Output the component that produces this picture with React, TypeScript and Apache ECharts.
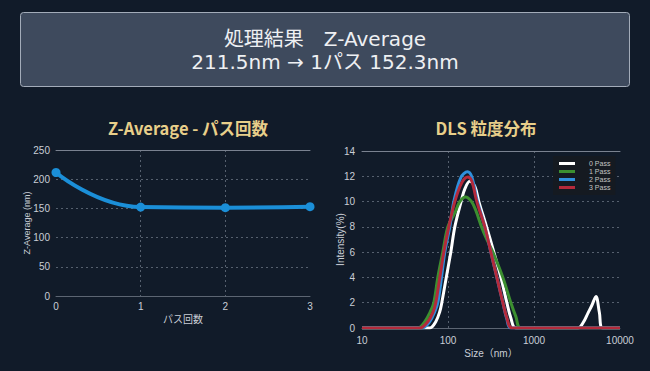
import React, { useEffect, useRef } from "react";
import * as echarts from "echarts";

// ---- Data ----
const PASS_COUNTS = [0, 1, 2, 3];
const Z_AVERAGE_NM = [211.5, 152.3, 151.2, 152.9];

const LEGEND_NAMES = ["0 Pass", "1 Pass", "2 Pass", "3 Pass"];

// [size nm, intensity %]
const PASS0: [number, number][] = [
  [10, 0], [61.4, 0], [72.1, 0.5], [80.3, 1.3], [84.7, 2], [95.5, 4], [107.8, 6],
  [120, 8], [142, 10], [156.9, 11], [179.4, 11.6], [205.1, 11.2], [228.4, 10],
  [280.9, 8], [341.4, 6], [412, 4], [483.7, 2], [538.4, 0.8], [615.6, 0],
  [3244, 0], [3741, 0.44], [4242, 1.18], [4685, 1.76], [5255, 2.49], [5750, 1.25],
  [6290, 0], [10000, 0],
];
const PASS1: [number, number][] = [
  [10, 0], [44.5, 0], [53.7, 0.5], [61.4, 1.2], [68.3, 2], [76.1, 4], [87.0, 6],
  [99.5, 8], [120, 9.1], [137.2, 10.0], [159.8, 10.37], [187.8, 10.0], [210.7, 9.3],
  [245.5, 8], [282.9, 7], [332.3, 6], [434.5, 4], [538.4, 2], [615.6, 0.9],
  [704, 0], [10000, 0],
];
const PASS2: [number, number][] = [
  [10, 0], [49.5, 0], [61.4, 0.5], [70.2, 1.3], [76.1, 2], [84.0, 4], [91.8, 6],
  [105, 8], [116.8, 10], [141, 11.9], [168.7, 12.35], [189.2, 11.95], [216.4, 10.2],
  [268.2, 8], [315, 6], [370, 4], [434.5, 2], [483.7, 0.7], [538.4, 0], [10000, 0],
];
const PASS3: [number, number][] = [
  [10, 0], [46.9, 0], [58.2, 0.5], [66.5, 1.2], [72.1, 2], [80.3, 4], [89.4, 6],
  [102.2, 8], [120, 10], [144.8, 11.5], [170, 11.95], [189.2, 11.6], [216.4, 10],
  [268.2, 8], [315, 6], [370, 4], [434.5, 2], [483.7, 0.8], [553, 0], [10000, 0],
];
const DLS_SERIES = [PASS0, PASS1, PASS2, PASS3];
const DLS_COLORS = ["#ffffff", "#3c8f30", "#2f90dc", "#b42a3b"];

const HEADER_LINE1 = "処理結果　Z-Average";
const HEADER_LINE2 = "211.5nm → 1パス 152.3nm";
const LEFT_TITLE = "Z-Average - パス回数";
const RIGHT_TITLE = "DLS 粒度分布";

const FONT = "'Liberation Sans', 'Noto Sans CJK JP', sans-serif";
const CJK = "'Noto Sans CJK JP', sans-serif";
const HEAD_FONT = "'DejaVu Sans', 'Noto Sans CJK JP', sans-serif";
const LABEL = "#c9ced6";
const GRID_LINE = "#56606e";

export default function App() {
  const ref = useRef<HTMLDivElement>(null);
  useEffect(() => {
    if (!ref.current) return;
    const chart = echarts.init(ref.current, undefined, { renderer: "svg" });
    const splitLine = {
      show: true,
      showMinLine: false,
      showMaxLine: false,
      lineStyle: { color: GRID_LINE, type: [2, 3] as any, width: 1 },
    };
    const topAxis = {
      position: "top",
      axisLine: { show: true, lineStyle: { color: "#7a8290", width: 1 } },
      axisLabel: { show: false },
      axisTick: { show: false },
      splitLine: { show: false },
    };
    chart.setOption({
      animation: false,
      backgroundColor: "#111b29",
      textStyle: { fontFamily: FONT },
      grid: [
        { left: 56, right: 340, top: 150, bottom: 75 },
        { left: 362, right: 30, top: 151, bottom: 43 },
      ],
      xAxis: [
        {
          gridIndex: 0,
          type: "value",
          min: 0,
          max: 3,
          interval: 1,
          axisLine: { show: true, lineStyle: { color: "#5c6572" } },
          axisTick: { show: false },
          axisLabel: { color: LABEL, fontSize: 10, margin: 5 },
          splitLine,
          name: "パス回数",
          nameLocation: "middle",
          nameGap: 17,
          nameTextStyle: { color: LABEL, fontSize: 10, fontFamily: CJK },
        },
        { gridIndex: 0, type: "value", min: 0, max: 3, interval: 1, ...topAxis },
        {
          gridIndex: 1,
          type: "log",
          logBase: 10,
          min: 10,
          max: 10000,
          axisLine: { show: true, lineStyle: { color: "#5c6572" } },
          axisTick: { show: false },
          axisLabel: {
            color: LABEL,
            fontSize: 10,
            margin: 7,
            formatter: (v: number) => String(Math.round(v)),
          },
          splitLine,
          minorSplitLine: { show: false },
          name: "Size（nm）",
          nameLocation: "middle",
          nameGap: 20,
          nameTextStyle: { color: LABEL, fontSize: 10, fontFamily: FONT },
        },
        { gridIndex: 1, type: "log", logBase: 10, min: 10, max: 10000, ...topAxis },
      ],
      yAxis: [
        {
          gridIndex: 0,
          type: "value",
          min: 0,
          max: 250,
          interval: 50,
          axisLine: { show: false },
          axisTick: { show: false },
          axisLabel: { color: LABEL, fontSize: 10, margin: 6 },
          splitLine,
          name: "Z-Average (nm)",
          nameLocation: "middle",
          nameGap: 25,
          nameMoveOverlap: false,
          nameTextStyle: { color: LABEL, fontSize: 9 },
        },
        {
          gridIndex: 1,
          type: "value",
          min: 0,
          max: 14,
          interval: 2,
          axisLine: { show: false },
          axisTick: { show: false },
          axisLabel: { color: LABEL, fontSize: 10, margin: 7 },
          splitLine,
          name: "Intensity(%)",
          nameLocation: "middle",
          nameGap: 17,
          nameMoveOverlap: false,
          nameTextStyle: { color: LABEL, fontSize: 10 },
        },
      ],
      legend: {
        data: LEGEND_NAMES,
        orient: "vertical",
        left: 553,
        top: 156,
        padding: [4, 5, 4, 6],
        itemGap: 1,
        itemWidth: 16,
        itemHeight: 3,
        icon: "rect",
        backgroundColor: "#151a21",
        textStyle: { color: "#c4c4c4", fontSize: 7, padding: [0, 0, 0, 9] },
      },
      series: [
        {
          type: "line",
          xAxisIndex: 0,
          yAxisIndex: 0,
          data: PASS_COUNTS.map((p, i) => [p, Z_AVERAGE_NM[i]]),
          smooth: true,
          symbol: "circle",
          symbolSize: 9,
          lineStyle: { color: "#1b8fd8", width: 4 },
          itemStyle: { color: "#1b8fd8" },
        },
        ...DLS_SERIES.map((d, i) => ({
          type: "line",
          name: LEGEND_NAMES[i],
          xAxisIndex: 2,
          yAxisIndex: 1,
          data: d,
          smooth: 0.35,
          symbol: "none",
          lineStyle: { color: DLS_COLORS[i], width: 3 },
          itemStyle: { color: DLS_COLORS[i] },
        })),
      ],
      graphic: [
        {
          type: "rect",
          shape: { x: 20.5, y: 12.5, width: 609, height: 74, r: 3 },
          style: { fill: "#3e4a5d", stroke: "#a3acb9", lineWidth: 1 },
          z: -1,
        },
        {
          type: "text",
          x: 325,
          y: 39,
          style: {
            text: HEADER_LINE1,
            fill: "#eef0f3",
            font: "20px " + HEAD_FONT,
            textAlign: "center",
            textVerticalAlign: "middle",
          },
        },
        {
          type: "text",
          x: 325,
          y: 62,
          style: {
            text: HEADER_LINE2,
            fill: "#eef0f3",
            font: "20px " + HEAD_FONT,
            textAlign: "center",
            textVerticalAlign: "middle",
          },
        },
        {
          type: "text",
          x: 188,
          y: 128,
          style: {
            text: LEFT_TITLE,
            fill: "#e8cf8a",
            font: "bold 16.5px " + CJK,
            textAlign: "center",
            textVerticalAlign: "middle",
          },
        },
        {
          type: "text",
          x: 486,
          y: 128,
          style: {
            text: RIGHT_TITLE,
            fill: "#e8cf8a",
            font: "bold 16.5px " + CJK,
            textAlign: "center",
            textVerticalAlign: "middle",
          },
        },
      ],
    });
    return () => chart.dispose();
  }, []);
  return (
    <div
      ref={ref}
      style={{ position: "fixed", left: 0, top: 0, width: 650, height: 371 }}
    />
  );
}
